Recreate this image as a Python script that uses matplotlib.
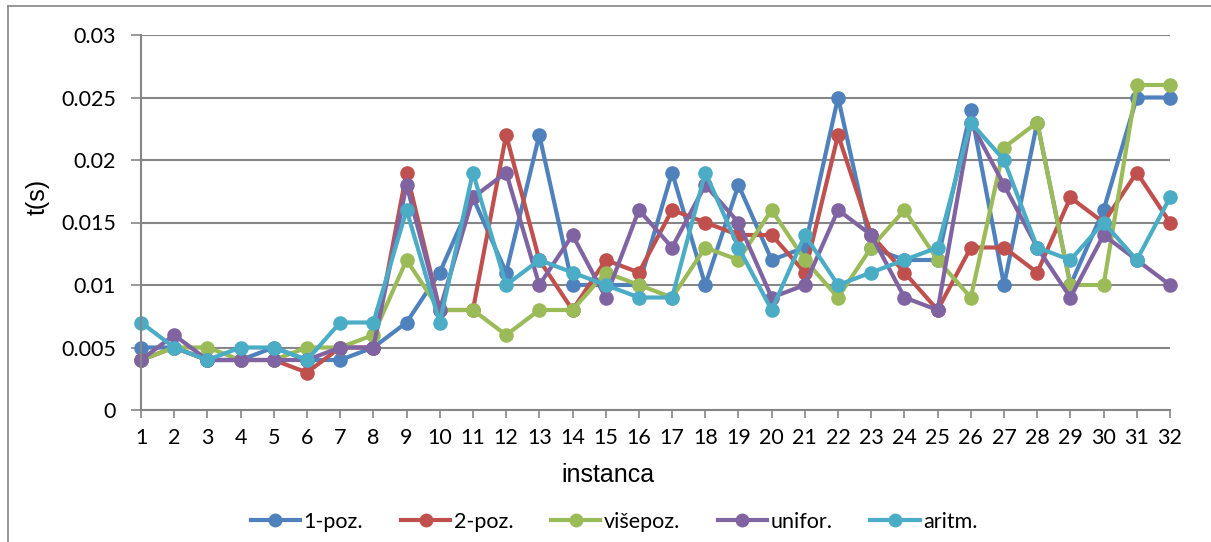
import matplotlib
matplotlib.use("Agg")
import matplotlib.pyplot as plt
from matplotlib.lines import Line2D

instances = list(range(1, 33))

poz1 = [0.005, 0.005, 0.004, 0.004, 0.005, 0.004, 0.004, 0.005, 0.007, 0.011,
        0.017, 0.011, 0.022, 0.010, 0.010, 0.010, 0.019, 0.010, 0.018, 0.012,
        0.013, 0.025, 0.013, 0.012, 0.012, 0.024, 0.010, 0.023, 0.010, 0.016,
        0.025, 0.025]
poz2 = [0.004, 0.005, 0.004, 0.004, 0.004, 0.003, 0.005, 0.005, 0.019, 0.008,
        0.008, 0.022, 0.012, 0.008, 0.012, 0.011, 0.016, 0.015, 0.014, 0.014,
        0.011, 0.022, 0.014, 0.011, 0.008, 0.013, 0.013, 0.011, 0.017, 0.015,
        0.019, 0.015]
visepoz = [0.004, 0.005, 0.005, 0.004, 0.004, 0.005, 0.005, 0.006, 0.012, 0.008,
           0.008, 0.006, 0.008, 0.008, 0.011, 0.010, 0.009, 0.013, 0.012, 0.016,
           0.012, 0.009, 0.013, 0.016, 0.012, 0.009, 0.021, 0.023, 0.010, 0.010,
           0.026, 0.026]
unifor = [0.004, 0.006, 0.004, 0.004, 0.004, 0.004, 0.005, 0.005, 0.018, 0.008,
          0.017, 0.019, 0.010, 0.014, 0.009, 0.016, 0.013, 0.018, 0.015, 0.009,
          0.010, 0.016, 0.014, 0.009, 0.008, 0.023, 0.018, 0.013, 0.009, 0.014,
          0.012, 0.010]
aritm = [0.007, 0.005, 0.004, 0.005, 0.005, 0.004, 0.007, 0.007, 0.016, 0.007,
         0.019, 0.010, 0.012, 0.011, 0.010, 0.009, 0.009, 0.019, 0.013, 0.008,
         0.014, 0.010, 0.011, 0.012, 0.013, 0.023, 0.020, 0.013, 0.012, 0.015,
         0.012, 0.017]

series_names = ["1-poz.", "2-poz.", "višepoz.", "unifor.", "aritm."]
series_values = [poz1, poz2, visepoz, unifor, aritm]
colors = ["#4F81BD", "#C0504D", "#9BBB59", "#8064A2", "#4BACC6"]

yticks = [0, 0.005, 0.01, 0.015, 0.02, 0.025, 0.03]
ytick_labels = ["0", "0.005", "0.01", "0.015", "0.02", "0.025", "0.03"]

tick_font = "Lato"

fig = plt.figure(figsize=(12.11, 5.42), dpi=100)
W, H = 1211, 542
AX_L, AX_R, AX_T, AX_B = 141, 1170, 35, 410
ax = fig.add_axes([AX_L / W, 1 - AX_B / H, (AX_R - AX_L) / W, (AX_B - AX_T) / H])

for name, vals, c in zip(series_names, series_values, colors):
    ax.plot(instances, vals, color=c, lw=3.0, marker="o", ms=10.5,
            markeredgewidth=0, label=name, solid_joinstyle="round",
            solid_capstyle="round", clip_on=False)

ax.set_xlim(1, 32)
ax.set_ylim(0, 0.03)
ax.set_yticks(yticks)
ax.set_yticklabels(ytick_labels)
ax.set_xticks(instances)
ax.set_xticklabels([str(i) for i in instances])

ax.grid(axis="y", color="#868686", lw=1.5)
ax.set_axisbelow(True)
for s in ["top", "right"]:
    ax.spines[s].set_visible(False)
for s in ["left", "bottom"]:
    ax.spines[s].set_color("#868686")
    ax.spines[s].set_linewidth(1.5)
ax.tick_params(axis="y", direction="out", length=7, width=1.2, color="#868686",
               labelsize=15.5, pad=11)
ax.tick_params(axis="x", direction="out", length=6, width=1.2, color="#868686",
               labelsize=15.5, pad=7)
for lab in ax.get_xticklabels() + ax.get_yticklabels():
    lab.set_fontfamily(tick_font)

aw = AX_R - AX_L
ah = AX_B - AX_T
ax.set_xlabel("instanca", fontsize=18, family="Liberation Sans")
ax.xaxis.set_label_coords((608 - AX_L) / aw, -(475 - AX_B) / ah)
ax.xaxis.label.set_va("center")
ax.set_ylabel("t(s)", fontsize=18, family="Liberation Sans")
ax.yaxis.set_label_coords(-(AX_L - 38) / aw, (AX_B - 197) / ah)
ax.yaxis.label.set_va("center")

handles = [Line2D([0], [0], color=c, lw=3.0, marker="o", ms=10, markeredgewidth=0)
           for c in colors]
leg = fig.legend(handles, series_names, loc="center", ncol=5,
                 bbox_to_anchor=(614 / W, 1 - 522 / H), frameon=False,
                 prop={"family": tick_font, "size": 15.5}, handlelength=2.3,
                 handletextpad=0.15, columnspacing=1.75)

# outer chart frame (top and left edges visible)
fig.add_artist(Line2D([8 / W, 1.0], [1 - 6 / H, 1 - 6 / H], color="#868686",
                      lw=1.2, transform=fig.transFigure))
fig.add_artist(Line2D([8 / W, 8 / W], [1 - 6 / H, 0.0], color="#868686",
                      lw=1.2, transform=fig.transFigure))

fig.savefig("out.png", dpi=100)
